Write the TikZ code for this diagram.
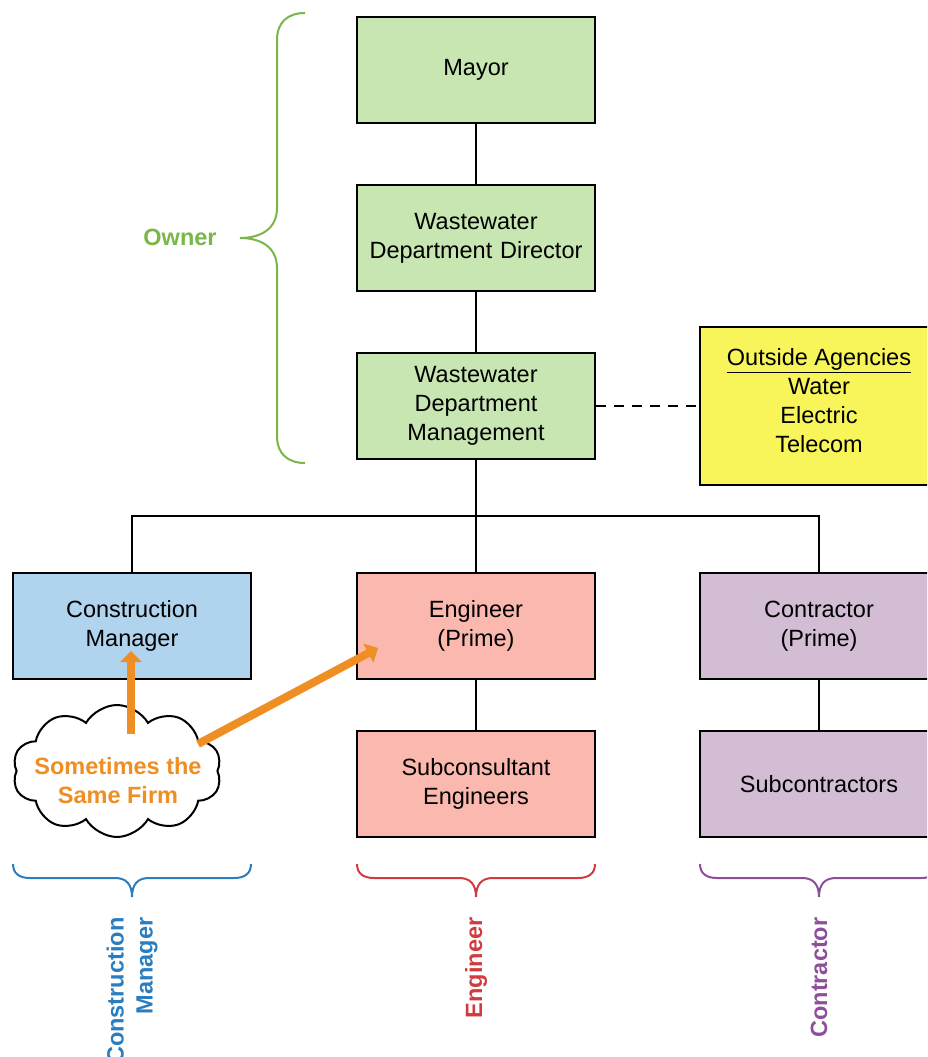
\documentclass[tikz,border=0pt]{standalone}
\usepackage{fontspec}
\setmainfont{Liberation Sans}
\usetikzlibrary{shapes.symbols,arrows.meta}
\definecolor{gfill}{HTML}{C7E6B1}
\definecolor{bfill}{HTML}{B1D4EE}
\definecolor{rfill}{HTML}{FBB8AE}
\definecolor{pfill}{HTML}{D3BDD5}
\definecolor{yfill}{HTML}{F7F55A}
\definecolor{gline}{HTML}{7AB648}
\definecolor{oline}{HTML}{EF8E22}
\definecolor{bline}{HTML}{2A7DBF}
\definecolor{rline}{HTML}{D13B40}
\definecolor{pline}{HTML}{8E4F9A}
\newcommand\hbrace[2]{%
  \draw[#2, line width=2pt, shift={(#1,0)}]
    (0,864) .. controls (0,874) and (7,878) .. (17,878) -- (102,878)
    .. controls (113,878) and (119,884) .. (119,897)
    .. controls (119,884) and (125,878) .. (136,878) -- (221,878)
    .. controls (231,878) and (238,874) .. (238,864);}
\begin{document}
\begin{tikzpicture}[x=1pt,y=-1pt,
  font=\fontsize{23.5}{29}\selectfont,
  box/.style={draw=black, line width=2.5pt, minimum width=238pt, minimum height=106pt,
    align=center, inner sep=0pt, text width=232pt},
  conn/.style={line width=2pt, draw=black},
  farrow/.style={draw=oline, line width=8pt, -{Triangle[length=11pt,width=21pt]}},
  blabel/.style={font=\fontsize{23.5}{29}\selectfont\bfseries}]
\useasboundingbox (0,0) rectangle (927,1057);
\clip (0,0) rectangle (927,1057);

% owner boxes
\node[box, fill=gfill] (mayor) at (476,70) {Mayor};
\node[box, fill=gfill] (dir) at (476,238) {Wastewater\\Department Director};
\node[box, fill=gfill] (mgmt) at (476,406) {Wastewater\\Department\\Management};
\node[box, fill=yfill, minimum height=158pt] (oa) at (819,406) {};
\node[align=center, inner sep=0pt] (oatext) at (819,401)
  {\underline{Outside Agencies}\\Water\\Electric\\Telecom};

% lower boxes
\node[box, fill=bfill] (cm) at (132,626) {Construction\\Manager};
\node[box, fill=rfill] (eng) at (476,626) {Engineer\\(Prime)};
\node[box, fill=pfill] (con) at (819,626) {Contractor\\(Prime)};
\node[box, fill=rfill] (sub) at (476,784) {Subconsultant\\Engineers};
\node[box, fill=pfill] (subc) at (819,784) {Subcontractors};

% connectors
\coordinate (bus) at (476,516);
\draw[conn] (mayor) -- (dir);
\draw[conn] (dir) -- (mgmt);
\draw[conn] (mgmt) -- (eng);
\draw[conn] (cm.north) |- (bus) -| (con.north);
\draw[conn] (eng) -- (sub);
\draw[conn] (con) -- (subc);
\draw[conn, dash pattern=on 10pt off 8pt, line width=2.5pt] (mgmt.east) -- (oa.west);

% owner brace
\draw[gline, line width=2pt]
  (305,13) .. controls (288,13) and (277,22) .. (277,40) -- (277,208)
  .. controls (277,228) and (262,238) .. (240,238)
  .. controls (262,238) and (277,248) .. (277,268) -- (277,436)
  .. controls (277,454) and (288,463) .. (305,463);
\node[blabel, text=gline] (owner) at (180,237) {Owner};

% bottom braces
\hbrace{13}{bline}
\hbrace{357}{rline}
\hbrace{700}{pline}
\node[blabel, text=bline, rotate=90, anchor=east, align=right] (cmlab) at (132,914) {Construction\\Manager};
\node[blabel, text=rline, rotate=90, anchor=east] (englab) at (476,914) {Engineer};
\node[blabel, text=pline, rotate=90, anchor=east] (conlab) at (819,914) {Contractor};

% cloud
\node[cloud, draw=black, fill=white, line width=2pt, cloud puffs=10, cloud puff arc=120,
  minimum width=209pt, minimum height=132pt, inner sep=0pt] (cloud) at (117,771) {};
\node[blabel, text=oline, align=center] (firm) at (118,781) {Sometimes the\\Same Firm};

% arrows
\coordinate (a1s) at (131,734);
\coordinate (a1e) at (131,651);
\coordinate (a2s) at (198,744);
\coordinate (a2e) at (378,648);
\draw[farrow] (a1s) -- (a1e);
\draw[farrow] (a2s) -- (a2e);
\end{tikzpicture}
\end{document}
